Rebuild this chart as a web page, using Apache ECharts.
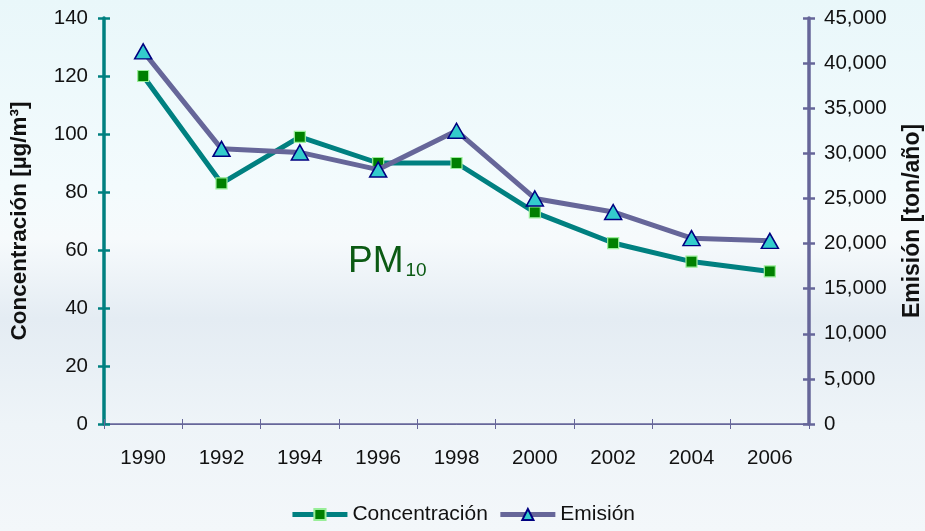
<!DOCTYPE html>
<html>
<head>
<meta charset="utf-8">
<script src="https://cdn.jsdelivr.net/npm/echarts@6/dist/echarts.min.js"></script>
<style>
html,body{margin:0;padding:0;}
body{width:925px;height:531px;background:linear-gradient(180deg,#e9f7fa 0%,#f3fbfd 35%,#f6fafc 45%,#e4ecf3 60%,#eef4f8 80%,#f3f7fa 100%);}
#chart{width:925px;height:531px;}
</style>
</head>
<body>
<div id="chart"></div>
<script>
const years = ['1990','1992','1994','1996','1998','2000','2002','2004','2006'];
const concentracion = [120, 83, 99, 90, 90, 73, 62.4, 56, 52.6];
const emision = [41300, 30500, 30100, 28200, 32500, 25000, 23500, 20600, 20300];
const leftTicks = {min: 0, max: 140, interval: 20};
const rightTicks = {min: 0, max: 45000, interval: 5000};

const FONT = '"Liberation Sans", Arial, sans-serif';
const chart = echarts.init(document.getElementById('chart'), null, {renderer: 'canvas'});
chart.setOption({
  backgroundColor: 'transparent',
  textStyle: {fontFamily: FONT},
  grid: {left: 104, right: 116, top: 18, bottom: 107, containLabel: false, outerBoundsMode: 'none'},
  legend: {
    bottom: 1, left: 'center', itemWidth: 55, itemHeight: 14, itemGap: 10,
    textStyle: {fontSize: 21, color: '#111', fontFamily: FONT},
    data: [
      {name: 'Concentración', lineStyle: {width: 5, color: '#008080'}},
      {name: 'Emisión', lineStyle: {width: 5, color: '#666699'}}
    ]
  },
  xAxis: [{
    type: 'category', data: years, boundaryGap: true,
    axisLine: {lineStyle: {color: '#666699', width: 1.5}},
    axisTick: {show: true, length: 5, lineStyle: {color: '#666699', width: 1}},
    axisLabel: {fontSize: 20.5, color: '#111', margin: 24, fontFamily: FONT},
    splitLine: {show: false}
  }, {
    type: 'category', data: years, boundaryGap: true, position: 'top',
    axisLine: {lineStyle: {color: '#666699', width: 1}},
    axisTick: {show: false}, axisLabel: {show: false}, splitLine: {show: false}
  }, {
    type: 'category', data: years, boundaryGap: true, position: 'bottom',
    axisLine: {show: false},
    axisTick: {show: true, inside: true, length: 5, lineStyle: {color: '#666699', width: 1}},
    axisLabel: {show: false}, splitLine: {show: false}
  }],
  yAxis: [{
    type: 'value', position: 'left', min: leftTicks.min, max: leftTicks.max, interval: leftTicks.interval,
    name: 'Concentración [µg/m³]', nameLocation: 'middle', nameGap: 73, nameRotate: 90,
    nameTextStyle: {fontSize: 22.5, fontWeight: 'bold', color: '#111', fontFamily: FONT},
    axisLine: {show: true, lineStyle: {color: '#008080', width: 3.5}},
    axisTick: {show: true, length: 6, lineStyle: {color: '#008080', width: 2.5}},
    axisLabel: {fontSize: 20.5, color: '#111', margin: 16, fontFamily: FONT},
    splitLine: {show: false}
  }, {
    type: 'value', position: 'right', min: rightTicks.min, max: rightTicks.max, interval: rightTicks.interval,
    name: 'Emisión [ton/año]', nameLocation: 'middle', nameGap: 92, nameRotate: 90,
    nameTextStyle: {fontSize: 23, fontWeight: 'bold', color: '#111', fontFamily: FONT},
    axisLine: {show: true, lineStyle: {color: '#666699', width: 3.5}},
    axisTick: {show: true, length: 6, lineStyle: {color: '#666699', width: 2.5}},
    axisLabel: {fontSize: 20.5, color: '#111', margin: 15, fontFamily: FONT,
      formatter: v => v.toLocaleString('en-US')},
    splitLine: {show: false}
  }, {
    type: 'value', position: 'left', min: leftTicks.min, max: leftTicks.max, interval: leftTicks.interval,
    axisLine: {show: false},
    axisTick: {show: true, inside: true, length: 6, lineStyle: {color: '#008080', width: 2.5}},
    axisLabel: {show: false}, splitLine: {show: false}
  }, {
    type: 'value', position: 'right', min: rightTicks.min, max: rightTicks.max, interval: rightTicks.interval,
    axisLine: {show: false},
    axisTick: {show: true, inside: true, length: 6, lineStyle: {color: '#666699', width: 2.5}},
    axisLabel: {show: false}, splitLine: {show: false}
  }],
  series: [{
    name: 'Concentración', type: 'line', xAxisIndex: 0, yAxisIndex: 0, data: concentracion,
    symbol: 'rect', symbolSize: 11, z: 3,
    lineStyle: {color: '#008080', width: 5},
    itemStyle: {color: '#008000', borderColor: '#99ee99', borderWidth: 1.2},
    emphasis: {disabled: true}
  }, {
    name: 'Emisión', type: 'line', xAxisIndex: 0, yAxisIndex: 1, data: emision,
    symbol: 'triangle', symbolSize: [17, 15], z: 4,
    lineStyle: {color: '#666699', width: 5},
    itemStyle: {color: '#33cccc', borderColor: '#000080', borderWidth: 1.5},
    emphasis: {disabled: true}
  }],
  graphic: [{
    type: 'text', left: 348, top: 243,
    style: {
      text: '{a|PM}{b|10}',
      rich: {
        a: {fontSize: 37, fill: '#0b5a13', fontFamily: FONT, verticalAlign: 'bottom'},
        b: {fontSize: 19, fill: '#0b5a13', fontFamily: FONT, padding: [20, 0, 0, 2], verticalAlign: 'bottom'}
      }
    }
  }],
  animation: false
});
</script>
</body>
</html>
